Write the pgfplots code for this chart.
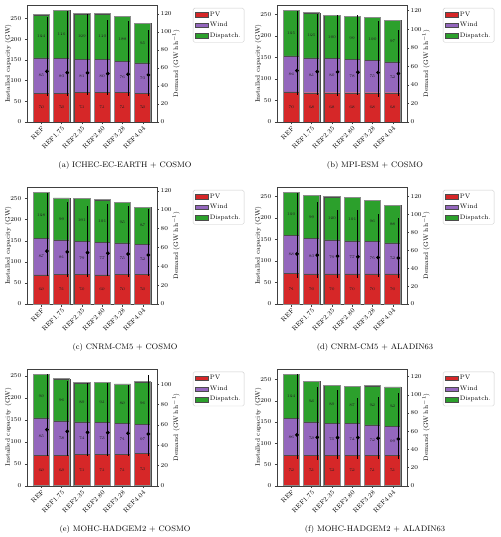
\documentclass[border=0pt]{standalone}
\usepackage{pgfplots}
\pgfplotsset{compat=1.18}
\usepackage{pgfplotstable}
\definecolor{tred}{RGB}{214,39,40}
\definecolor{tpurple}{RGB}{148,103,189}
\definecolor{tgreen}{RGB}{44,160,44}

\pgfplotstableread{
x pv wind disp dem dp dm
0 70 85 104 56.3 60.0 27.3
1 70 83 116 54.8 68.9 25.8
2 71 81 109 54.5 65.5 24.7
3 71 80 110 53.7 59.7 23.9
4 71 76 108 53.0 59.0 24.0
5 70 73 95 52.3 50.0 23.3
}\tA
\pgfplotstableread{
x pv wind disp dem dp dm
0 70 84 105 55.4 64.6 26.4
1 68 81 105 54.3 62.1 25.3
2 68 80 100 53.9 61.8 25.9
3 68 78 99 53.6 62.1 24.6
4 68 75 100 53.2 55.4 26.2
5 68 72 97 52.1 46.5 24.1
}\tB
\pgfplotstableread{
x pv wind disp dem dp dm
0 69 87 108 56.1 61.9 26.6
1 71 81 99 55.1 52.6 26.3
2 70 79 101 54.4 49.6 25.6
3 69 77 101 53.7 52.3 24.2
4 70 75 95 53.0 51.0 24.2
5 70 72 87 51.9 48.8 22.4
}\tC
\pgfplotstableread{
x pv wind disp dem dp dm
0 71 88 100 56.0 68.4 27.0
1 70 83 99 54.5 59.5 25.5
2 70 79 100 53.5 50.9 24.5
3 70 77 101 52.7 51.7 23.7
4 70 75 96 52.0 48.0 22.2
5 70 72 88 51.3 44.7 22.3
}\tD
\pgfplotstableread{
x pv wind disp dem dp dm
0 69 85 99 55.2 54.6 26.4
1 69 78 96 53.6 49.7 24.8
2 71 74 89 52.6 49.0 23.2
3 71 73 91 52.3 49.3 22.9
4 71 71 89 51.6 47.7 22.8
5 73 67 96 51.0 57.8 21.6
}\tE
\pgfplotstableread{
x pv wind disp dem dp dm
0 72 86 104 55.8 66.7 26.3
1 71 79 96 53.2 55.5 24.8
2 72 75 89 52.9 52.5 23.4
3 72 74 87 52.9 43.1 23.4
4 71 72 92 52.2 45.8 22.7
5 71 69 92 51.4 50.0 21.9
}\tF

\pgfplotsset{
  common/.style={scale only axis, width=129.4pt, height=117pt,
    xmin=-0.69, xmax=5.69, ymin=0, anchor=south west, enlargelimits=false,
    tick label style={font=\fontsize{6.5}{7}\selectfont},
    label style={font=\fontsize{6.5}{7}\selectfont},
    major tick length=2.5pt, tick align=outside,
    axis line style={black!75}, tick style={black!75}},
  myleg/.style={legend image code/.code={\draw[##1, sharp corners] (0pt,-2.2pt) rectangle (13pt,2.2pt);}},
  seglab/.style={only marks, mark=*, mark size=0.01pt, mark options={draw=none, fill=none},
    nodes near coords, point meta=explicit symbolic, nodes near coords align=center,
    every node near coord/.append style={font=\fontsize{4}{4}\selectfont, text=black!85, inner sep=0pt}},
}

\newcommand{\panel}[6]{%
\begin{axis}[common, name=m, at={(#2pt,-#3pt)}, ymax=#4,
  ybar stacked, bar width=0.8,
  xtick={0,...,5}, xticklabels={REF,REF1.75,REF2.35,REF2.80,REF3.28,REF4.04},
  xticklabel style={rotate=45, anchor=north east, inner sep=1pt},
  ytick={0,50,...,250}, xtick pos=left, ytick pos=left,
  ylabel={Installed capacity (GW)},
  ylabel style={at={(axis description cs:-0.148,0.5)}, anchor=center},
  myleg, legend cell align=left,
  legend style={at={(1.28,0.975)}, anchor=north west, draw=black!20,
    rounded corners=1.5pt, inner sep=1.5pt, font=\fontsize{6.5}{7}\selectfont,
    row sep=0.6pt}]
\addplot[fill=tred, draw=black!70, line width=0.3pt] table[x=x,y=pv]{#1};
\addplot[fill=tpurple, draw=black!70, line width=0.3pt] table[x=x,y=wind]{#1};
\addplot[fill=tgreen, draw=black!70, line width=0.3pt] table[x=x,y=disp]{#1};
\legend{PV,Wind,Dispatch.}
\end{axis}
\begin{axis}[common, at={(#2pt,-#3pt)}, ymax=#4, hide axis]
\addplot[ybar, bar width=0.8, bar shift=0pt, fill=none, draw=black!45, line width=0.9pt]
  table[x=x, y expr=\thisrow{pv}+\thisrow{wind}+\thisrow{disp}]{#1};
\addplot[seglab] table[x=x, y expr=\thisrow{pv}/2, meta=pv]{#1};
\addplot[seglab] table[x=x, y expr=\thisrow{pv}+\thisrow{wind}/2, meta=wind]{#1};
\addplot[seglab] table[x=x, y expr=\thisrow{pv}+\thisrow{wind}+\thisrow{disp}/2, meta=disp]{#1};
\end{axis}
\begin{axis}[common, at={(#2pt,-#3pt)}, ymax=#5, axis x line=none, axis y line*=right,
  ytick={0,20,...,120}, yticklabel style={inner sep=1.2pt}]
\addplot[only marks, mark=*, mark size=1.7pt, black,
  error bars/.cd, y dir=both, y explicit, error mark=none,
  error bar style={line width=0.8pt, black}]
  table[x expr=\thisrow{x}+0.28, y=dem, y error plus=dp, y error minus=dm]{#1};
\end{axis}
\node[rotate=90, font=\fontsize{6.5}{7}\selectfont] at ([xshift=148.7pt, yshift=58.5pt]m.south west) {Demand (GW\,h\,h$^{-1}$)};
\node[font=\fontsize{8}{9.6}\selectfont] at ([xshift=97.7pt, yshift=-43.5pt]m.south west) {#6};
}

\begin{document}
\begin{tikzpicture}
\path[use as bounding box] (0pt,0pt) rectangle (500pt,-537pt);
\panel{\tA}{27.3}{122}{282.5}{129.9}{(a) ICHEC-EC-EARTH + COSMO}
\panel{\tB}{277.3}{122}{272}{126}{(b) MPI-ESM + COSMO}
\panel{\tC}{27.3}{304}{277}{123.9}{(c) CNRM-CM5 + COSMO}
\panel{\tD}{277.3}{304}{272}{130.6}{(d) CNRM-CM5 + ALADIN63}
\panel{\tE}{27.3}{485.7}{265.7}{115.3}{(e) MOHC-HADGEM2 + COSMO}
\panel{\tF}{277.3}{485.7}{275}{128.6}{(f) MOHC-HADGEM2 + ALADIN63}
\end{tikzpicture}
\end{document}
